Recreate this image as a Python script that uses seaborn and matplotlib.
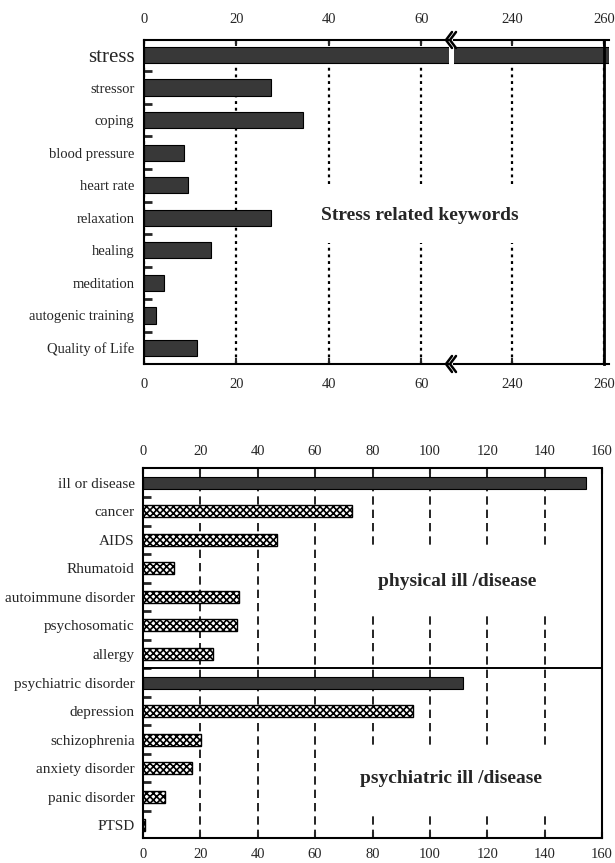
import matplotlib
matplotlib.use('Agg')
import matplotlib.pyplot as plt
from matplotlib.lines import Line2D
import seaborn as sns

# stress related keywords (upper panel)
top_keywords = ['stress', 'stressor', 'coping', 'blood pressure', 'heart rate',
                'relaxation', 'healing', 'meditation', 'autogenic training',
                'Quality of Life']
top_counts = [261, 27.5, 34.5, 8.6, 9.6, 27.4, 14.6, 4.3, 2.6, 11.4]

# ill / disease keywords (lower panel)
bottom_terms = ['ill or disease', 'cancer', 'AIDS', 'Rhumatoid', 'autoimmune disorder',
                'psychosomatic', 'allergy', 'psychiatric disorder', 'depression',
                'schizophrenia', 'anxiety disorder', 'panic disorder', 'PTSD']
bottom_counts = [154.4, 73.0, 46.6, 10.8, 33.5, 32.6, 24.3, 111.6, 94.1, 20.2, 17.1, 7.8, 0.8]
bottom_is_total = [True, False, False, False, False, False, False,
                   True, False, False, False, False, False]

left_ticks = [0, 20, 40, 60]
right_ticks = [240, 260]
bottom_ticks = [0, 20, 40, 60, 80, 100, 120, 140, 160]

sns.set_style('white')
plt.rcParams['font.family'] = ['Liberation Serif', 'DejaVu Serif']
plt.rcParams['hatch.linewidth'] = 1.2

W, H = 615, 863
fig = plt.figure(figsize=(W / 100, H / 100), dpi=100)


def px_box(x0, y0, x1, y1):
    return [x0 / W, 1 - y1 / H, (x1 - x0) / W, (y1 - y0) / H]


ax_l = fig.add_axes(px_box(144, 40, 449, 364))
ax_r = fig.add_axes(px_box(454, 40, 609, 364))
ax_b = fig.add_axes(px_box(143, 468, 602, 838))

bar_col = '#383838'

# ---- upper panel (broken x axis) ----
for ax in (ax_l, ax_r):
    sns.barplot(x=top_counts, y=top_keywords, orient='h', color=bar_col, saturation=1,
                width=0.5, edgecolor='black', linewidth=0.8, ax=ax)
    ax.set_ylim(9.49, -0.46)
    ax.set_xlabel('')
    ax.set_ylabel('')
    ax.set_axisbelow(True)
    ax.grid(axis='x', color='black', linestyle=(0, (1.3, 1.7)), linewidth=1.6)
    ax.grid(axis='y', visible=False)
    for s in ax.spines.values():
        s.set_color('black')
        s.set_linewidth(1.5)
    ax.tick_params(axis='x', top=True, labeltop=True, bottom=True, labelbottom=True,
                   direction='in', length=4, width=1.5, labelsize=10.5, pad=10)

ax_l.set_xlim(0, 66)
ax_l.set_xticks(left_ticks)
ax_l.spines['right'].set_visible(False)
ax_l.set_yticks(range(len(top_keywords)))
ax_l.set_yticks([i + 0.5 for i in range(len(top_keywords) - 1)], minor=True)
ax_l.tick_params(axis='y', which='major', length=0, labelsize=10.5, pad=7)
ax_l.tick_params(axis='y', which='minor', left=True, direction='in', length=6, width=2)
ax_l.get_yticklabels()[0].set_fontsize(15)

ax_r.set_xlim(227.4, 261)
ax_r.set_xticks(right_ticks)
ax_r.spines['left'].set_visible(False)
ax_r.spines['right'].set_position(('data', 260))
ax_r.spines['right'].set_linewidth(2)
ax_r.set_yticks([])

fig.text(420 / W, 1 - 215 / H, 'Stress related keywords', ha='center', va='center',
         fontsize=14, fontweight='bold',
         bbox=dict(facecolor='white', edgecolor='none', pad=14))

# break marks
for yb in (40, 364):
    for dx in (-2, 2):
        xs = [(451 + dx + 3) / W, (451 + dx - 3) / W, (451 + dx + 3) / W]
        ys = [1 - (yb - 8) / H, 1 - yb / H, 1 - (yb + 8) / H]
        fig.add_artist(Line2D(xs, ys, color='black', lw=1.8))

# ---- lower panel ----
sns.barplot(x=bottom_counts, y=bottom_terms, orient='h', color=bar_col, saturation=1,
            width=0.42, edgecolor='black', linewidth=0.8, ax=ax_b)
for patch, total in zip(ax_b.patches, bottom_is_total):
    if not total:
        patch.set_facecolor('white')
        patch.set_hatch('xxxxx')
        patch.set_edgecolor('black')
        patch.set_linewidth(1.0)

ax_b.set_xlim(0, 160)
ax_b.set_ylim(12.45, -0.52)
ax_b.set_xticks(bottom_ticks)
ax_b.set_xlabel('')
ax_b.set_ylabel('')
ax_b.set_axisbelow(True)
ax_b.grid(axis='x', color='black', linestyle=(0, (5, 3)), linewidth=1.2)
ax_b.grid(axis='y', visible=False)
for s in ax_b.spines.values():
    s.set_color('black')
    s.set_linewidth(1.5)
ax_b.spines['right'].set_linestyle((0, (1, 1)))
ax_b.spines['bottom'].set_linestyle((0, (2, 1)))
ax_b.spines['top'].set_linestyle((0, (2, 1)))
ax_b.tick_params(axis='x', top=True, labeltop=True, direction='in', length=4, width=1.5,
                 labelsize=10.5, pad=10)
ax_b.tick_params(axis='x', bottom=True, labelbottom=True, pad=7)
ax_b.set_yticks([i + 0.5 for i in range(len(bottom_terms) - 1)], minor=True)
ax_b.tick_params(axis='y', which='major', length=0, labelsize=11, pad=6)
ax_b.tick_params(axis='y', which='minor', left=True, direction='in', length=6, width=2)

ax_b.axhline(6.5, color='black', linewidth=1.4)

ax_b.text(109.4, 3.45, 'physical ill /disease', ha='center', va='center',
          fontsize=14, fontweight='bold', zorder=5,
          bbox=dict(facecolor='white', edgecolor='none', pad=18))
ax_b.text(107.3, 10.35, 'psychiatric ill /disease', ha='center', va='center',
          fontsize=14, fontweight='bold', zorder=5,
          bbox=dict(facecolor='white', edgecolor='none', pad=18))

fig.savefig('out.png', dpi=100)
